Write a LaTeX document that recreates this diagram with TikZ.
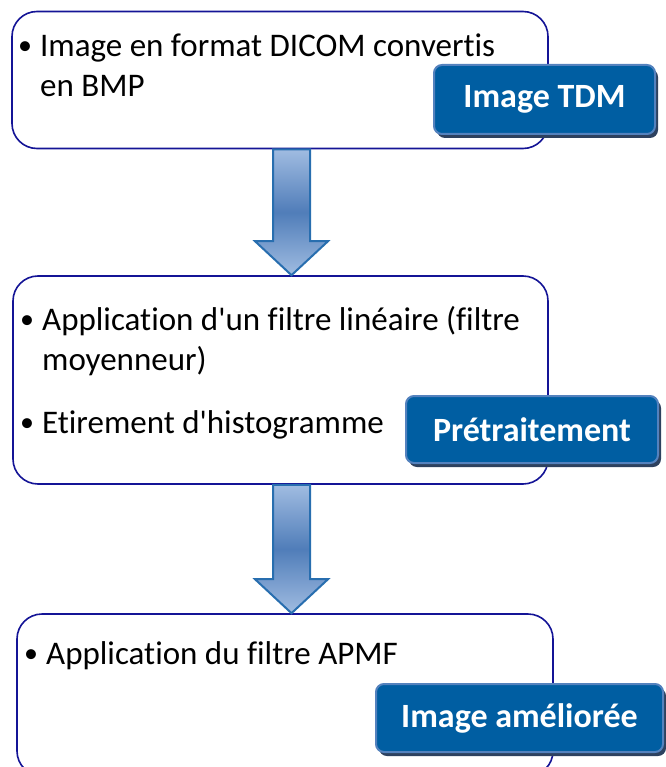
\documentclass[tikz,border=0pt]{standalone}
\usepackage{fontspec}
\setmainfont{Carlito}[Ligatures=NoCommon]
\usetikzlibrary{positioning, calc, shadows}
\definecolor{framenavy}{RGB}{20,20,150}
\definecolor{tagblue}{RGB}{0,94,162}
\definecolor{tagedge}{RGB}{84,130,190}
\definecolor{tagshadow}{RGB}{45,65,95}
\definecolor{arrowlight}{RGB}{160,188,225}
\definecolor{arrowmid}{RGB}{80,125,185}
\definecolor{arrowedge}{RGB}{40,110,175}
\definecolor{arrowshadow}{RGB}{55,75,105}

\newcommand{\puce}{\raisebox{2pt}{\fontsize{28}{28}\selectfont •}}
% block arrow from #2 (top of shaft) down to #3 (tip)
\newcommand{\flowarrow}[3][]{%
  \path[#1] let \p1=(#2), \p2=(#3) in
    (\x1-18.5pt,\y1) -- (\x1+18.5pt,\y1) -- (\x1+18.5pt,\y2+34pt) -- (\x1+36.5pt,\y2+34pt)
    -- (\x1,\y2) -- (\x1-36.5pt,\y2+34pt) -- (\x1-18.5pt,\y2+34pt) -- cycle;}

\begin{document}
\begin{tikzpicture}[
        x=1pt, y=-1pt,
        stage/.style={rectangle, draw=framenavy, line width=1.6pt, rounded corners=25pt,
            fill=white, inner sep=0pt},
        item/.style={anchor=base west, inner sep=0pt, font=\fontsize{33}{40}\selectfont},
        tag/.style={rectangle, draw=tagedge, line width=2pt, fill=tagblue, rounded corners=8pt,
            text=white, font=\fontsize{34}{40}\selectfont\bfseries, inner sep=0pt,
            drop shadow={shadow xshift=3pt, shadow yshift=-4pt, fill=tagshadow, opacity=1}},
        arrowbody/.style={top color=arrowlight, bottom color=arrowlight, middle color=arrowmid,
            draw=arrowedge, line width=2pt}
    ]
        \useasboundingbox (0,0) rectangle (665,767);

        \node[stage, minimum width=536pt, minimum height=137pt] (tdm) at (280,80) {};
        \node[stage, minimum width=535pt, minimum height=208pt] (pre) at (280.5,380) {};
        \node[stage, minimum width=536pt, minimum height=162pt] (apmf) at (285,695) {};

        \node[item] (tdmitem) at (18,57) {\begin{tabular}[t]{@{}l@{\hspace{8pt}}l@{}}
            \puce&Image en format DICOM convertis\\ &en BMP\end{tabular}};
        \node[item] (preitem) at (20,330) {\begin{tabular}[t]{@{}l@{\hspace{8pt}}l@{}}
            \puce&Application d\textquotesingle un filtre linéaire (filtre\\ &moyenneur)\end{tabular}};
        \node[item] (etitem) at (20,433) {\puce\hspace{8pt}Etirement d\textquotesingle histogramme};
        \node[item] (apmfitem) at (24,664) {\puce\hspace{8pt}Application du filtre APMF};

        \node[tag, minimum width=221pt, minimum height=69pt] (tdmtag) at (544.5,99.5) {Image TDM};
        \node[tag, minimum width=252pt, minimum height=67pt] (pretag) at (532,429.5) {Prétraitement};
        \node[tag, minimum width=287pt, minimum height=68pt] (apmftag) at (519.5,718) {Image améliorée};

        \coordinate (axis) at (291.5,0);
        \flowarrow[fill=arrowshadow, xshift=4pt, yshift=-4pt]{tdm.south -| axis}{pre.north -| axis}
        \flowarrow[arrowbody]{tdm.south -| axis}{pre.north -| axis}
        \flowarrow[fill=arrowshadow, xshift=4pt, yshift=-4pt]{pre.south -| axis}{apmf.north -| axis}
        \flowarrow[arrowbody]{pre.south -| axis}{apmf.north -| axis}
    \end{tikzpicture}
\end{document}
